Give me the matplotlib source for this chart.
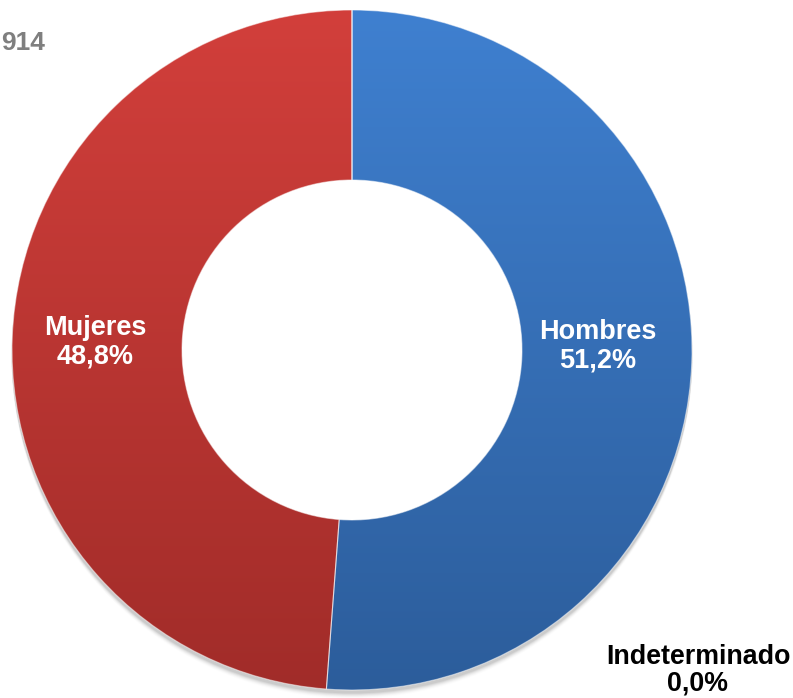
import numpy as np
import matplotlib
matplotlib.use("Agg")
import matplotlib.pyplot as plt
from matplotlib.colors import LinearSegmentedColormap

categories = ["Hombres", "Mujeres", "Indeterminado"]
values = [51.2, 48.8, 0.0]
value_labels = ["51,2%", "48,8%", "0,0%"]
corner_text = "914"

plt.rcParams['font.family'] = ['Liberation Sans', 'DejaVu Sans']

W, H = 793, 698
fig = plt.figure(figsize=(W / 100, H / 100), dpi=100)
ax = fig.add_axes([0, 0, 1, 1])

cx, cy = 352, H - 350
R = 340
width = 0.5

# soft shadow under outer edge
for i, a in enumerate(np.linspace(0.06, 0.01, 6)):
    sh = plt.Circle((cx, cy - 3 - i), R + 0.5, color='black', alpha=a, zorder=0, lw=0)
    ax.add_patch(sh)
ax.add_patch(plt.Circle((cx, cy), R * (1 - width) + 1, color='white', zorder=1, lw=0))

wedges, _ = ax.pie(values, center=(cx, cy), radius=R, startangle=90, counterclock=False,
                   wedgeprops=dict(width=R * width, edgecolor=(1, 1, 1, 0.5), linewidth=0.8),
                   frame=True)
ax.set_xlim(0, W)
ax.set_ylim(0, H)
ax.set_aspect('equal')
ax.axis('off')

grads = [("#3F80D0", "#2C5D9B"), ("#D23F3B", "#A12C29"), ("#888888", "#888888")]
for w, (top, bot) in zip(wedges, grads):
    cmap = LinearSegmentedColormap.from_list("g", [bot, top])
    grad = np.linspace(0, 1, 256).reshape(-1, 1)
    im = ax.imshow(grad, cmap=cmap, extent=[cx - R, cx + R, cy - R, cy + R],
                   origin='lower', aspect='auto', zorder=1.5)
    im.set_clip_path(w)
    w.set_facecolor('none')
    w.set_zorder(2)

# data labels inside ring
label_pos = [(598, H - 346), (95, H - 342)]
for cat, lab, (x, y) in zip(categories[:2], value_labels[:2], label_pos):
    ax.text(x, y, f"{cat}\n{lab}", color='white', fontsize=19.5, fontweight='bold',
            ha='center', va='center', linespacing=1.13, zorder=3)

ax.text(698, H - 670, f"{categories[2]}\n{value_labels[2]}", color='black', fontsize=19.3,
        fontweight='bold', ha='center', va='center', linespacing=1.02, zorder=3)

ax.text(1, H - 43, corner_text, color='#7F7F7F', fontsize=19, fontweight='bold',
        ha='left', va='center', zorder=3)

ax.set_xlim(0, W)
ax.set_ylim(0, H)
fig.savefig("out.png", dpi=100)
